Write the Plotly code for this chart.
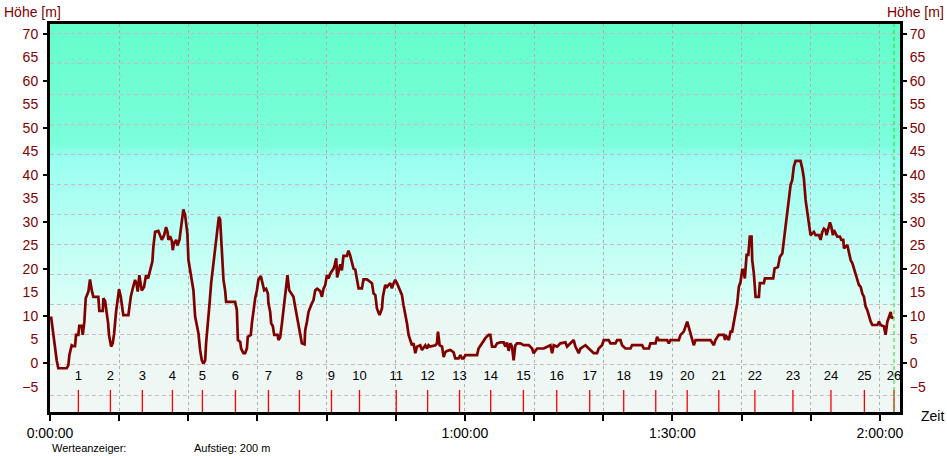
import base64
import plotly.graph_objects as go

# ---------------- data ----------------
zeit_s = [9, 29, 43, 58, 72, 145, 159, 168, 188, 202, 217, 226, 246, 254, 275, 284, 298, 310, 333, 347,
          362, 376, 419, 428, 458, 463, 478, 492, 504, 512, 530, 544, 556, 573, 586, 599, 614, 628, 636, 680,
          688, 701, 718, 738, 751, 761, 775, 786, 796, 816, 833, 851, 868, 888, 897, 912, 940, 955, 970, 990,
          1007, 1020, 1027, 1042, 1057, 1065, 1076, 1094, 1105, 1123, 1135, 1149, 1157, 1172, 1181, 1192, 1201, 1222,
          1244, 1259, 1274, 1288, 1302, 1317, 1331, 1346, 1354, 1369, 1383, 1398, 1413, 1426, 1441, 1453, 1465, 1476,
          1491, 1505, 1519, 1528, 1606, 1621, 1630, 1650, 1658, 1678, 1693, 1708, 1716, 1742, 1751, 1765, 1780, 1795,
          1808, 1829, 1847, 1858, 1875, 1890, 1895, 1910, 1919, 1933, 1945, 1974, 1982, 1997, 2012, 2034, 2046, 2060,
          2075, 2092, 2112, 2127, 2142, 2156, 2171, 2185, 2208, 2214, 2229, 2243, 2272, 2286, 2301, 2318, 2344, 2359,
          2373, 2388, 2402, 2416, 2431, 2460, 2470, 2483, 2491, 2503, 2518, 2532, 2546, 2576, 2589, 2604, 2619, 2633,
          2648, 2663, 2677, 2706, 2720, 2750, 2778, 2793, 2807, 2822, 2836, 2859, 2880, 2888, 2908, 2923, 2952, 2966,
          2981, 2995, 3010, 3024, 3039, 3053, 3067, 3082, 3097, 3111, 3126, 3140, 3154, 3169, 3184, 3212, 3227, 3256,
          3271, 3284, 3299, 3343, 3357, 3366, 3380, 3401, 3415, 3429, 3444, 3473, 3501, 3516, 3545, 3560, 3574, 3588,
          3603, 3705, 3718, 3748, 3777, 3805, 3820, 3835, 3863, 3878, 3907, 3936, 3950, 3965, 3979, 3994, 4008, 4022,
          4037, 4052, 4081, 4109, 4153, 4167, 4182, 4196, 4226, 4254, 4283, 4341, 4356, 4370, 4399, 4428, 4471, 4486,
          4514, 4543, 4558, 4587, 4601, 4645, 4674, 4717, 4746, 4760, 4789, 4804, 4847, 4862, 4905, 4920, 4949, 4963,
          4992, 5036, 5050, 5137, 5151, 5195, 5209, 5253, 5267, 5281, 5354, 5368, 5383, 5455, 5470, 5498, 5528, 5542,
          5556, 5571, 5585, 5600, 5730, 5759, 5773, 5802, 5846, 5856, 5860, 5889, 5904, 5918, 5932, 5947, 5962, 5976,
          5991, 6005, 6016, 6028, 6043, 6058, 6071, 6086, 6092, 6106, 6121, 6150, 6158, 6193, 6202, 6274, 6286, 6315,
          6332, 6353, 6367, 6381, 6396, 6410, 6425, 6439, 6453, 6468, 6511, 6526, 6540, 6555, 6570, 6584, 6598, 6627,
          6642, 6671, 6685, 6700, 6714, 6728, 6737, 6752, 6766, 6778, 6792, 6801, 6815, 6830, 6853, 6865, 6882, 6888,
          6917, 6931, 6946, 6961, 6975, 6989, 7004, 7018, 7033, 7047, 7061, 7076, 7090, 7105, 7120, 7134, 7178, 7192,
          7206, 7235, 7249, 7264, 7278, 7293, 7301, 7316]

hoehe_m = [9.9, 6.3, 2.8, 0.6, -1.1, -1.1, -0.5, 1.7, 3.8, 3.6, 3.6, 6.0, 6.0, 7.9, 7.9, 6.0, 8.8, 13.8, 15.2, 17.8,
           15.5, 14.1, 14.1, 11.1, 11.1, 13.8, 13.2, 11.0, 8.5, 6.0, 3.5, 4.2, 6.2, 10.9, 13.5, 15.7, 14.1, 11.0, 10.2, 10.2,
           12.3, 14.1, 15.9, 17.7, 16.8, 15.2, 18.7, 17.0, 15.4, 16.2, 18.7, 18.0, 19.8, 21.6, 24.8, 27.9, 28.1, 26.9, 26.2, 27.2,
           28.9, 27.8, 26.2, 27.0, 26.0, 24.0, 25.5, 26.2, 25.0, 26.2, 28.6, 31.5, 32.7, 31.5, 29.4, 27.5, 21.9, 18.7,
           15.5, 9.9, 8.0, 6.3, 2.8, 0.6, -0.1, 0.6, 4.2, 7.7, 12.3, 17.0, 20.1, 23.7, 25.5, 29.0, 31.1, 30.5,
           23.0, 17.7, 15.5, 13.0, 13.0, 11.3, 4.9, 4.5, 3.1, 2.1, 2.1, 3.1, 5.6, 6.0, 8.4, 11.3, 13.8, 15.5,
           17.7, 18.5, 16.2, 15.5, 15.8, 14.8, 12.7, 10.9, 8.4, 7.9, 6.0, 6.0, 4.9, 5.5, 8.4, 12.7, 16.2, 18.7,
           15.5, 14.8, 14.1, 12.0, 9.9, 8.6, 6.3, 4.2, 4.0, 7.0, 8.8, 10.9, 12.7, 13.4, 15.5, 15.8, 15.3, 14.1,
           15.8, 16.6, 18.7, 18.0, 19.0, 20.1, 20.9, 22.3, 18.2, 19.7, 21.0, 19.7, 22.8, 22.8, 23.9, 22.9, 21.2, 20.1,
           19.9, 18.0, 15.9, 15.9, 17.8, 17.8, 17.3, 17.0, 14.8, 14.5, 11.6, 10.2, 11.6, 14.1, 16.6, 16.2, 17.0, 15.9,
           17.0, 17.7, 17.0, 16.2, 15.5, 14.5, 12.3, 10.6, 8.4, 6.0, 4.9, 3.8, 4.2, 2.1, 3.5, 3.8, 2.8, 3.8,
           3.1, 3.8, 3.5, 3.8, 4.2, 6.7, 3.8, 3.5, 1.3, 2.3, 2.6, 2.8, 2.3, 1.0, 1.0, 1.7, 1.0, 1.0,
           1.7, 1.7, 3.1, 4.2, 5.3, 6.0, 6.0, 3.5, 3.5, 4.2, 4.4, 4.4, 3.5, 4.4, 2.6, 4.2, 3.5, 0.6,
           3.8, 4.2, 4.2, 3.8, 3.8, 3.5, 3.1, 2.1, 3.1, 3.1, 3.1, 3.8, 2.1, 3.8, 3.5, 4.2, 4.4, 3.5,
           4.2, 4.9, 3.5, 2.1, 3.1, 3.8, 3.1, 2.1, 2.1, 3.1, 3.8, 4.9, 4.9, 4.2, 4.2, 4.9, 4.9, 3.8,
           3.1, 3.1, 3.8, 3.8, 3.1, 3.1, 4.2, 4.2, 5.6, 4.9, 4.9, 4.2, 4.9, 4.9, 6.0, 6.7, 8.8, 7.5,
           5.9, 4.9, 3.8, 4.9, 4.9, 3.8, 4.9, 6.0, 6.0, 4.9, 6.0, 4.9, 6.7, 6.7, 8.8, 10.6, 12.7, 16.2,
           17.3, 19.8, 19.8, 18.0, 23.0, 23.0, 26.9, 26.9, 21.9, 19.1, 14.1, 14.1, 17.0, 17.0, 18.0, 18.0, 20.1, 20.4,
           22.6, 23.3, 26.2, 28.3, 31.5, 34.3, 37.9, 38.9, 41.8, 43.0, 43.0, 41.4, 39.3, 34.7, 32.2, 29.4, 27.2, 27.9,
           27.2, 27.2, 26.2, 27.9, 28.6, 28.3, 27.2, 28.6, 29.9, 29.0, 27.2, 28.3, 27.5, 26.9, 26.9, 26.2, 26.2, 24.4,
           25.1, 23.3, 21.9, 21.2, 20.1, 19.1, 17.7, 16.6, 16.2, 14.8, 14.1, 12.0, 11.3, 9.9, 8.8, 8.1, 8.1, 8.8,
           8.1, 7.8, 6.0, 8.8, 9.9, 10.9, 9.5, 9.9]

km_zeit_s = [246, 524, 801, 1062, 1322, 1609, 1895, 2164, 2442, 2685, 3004, 3276, 3553,
             3823, 4107, 4396, 4682, 4977, 5255, 5528, 5802, 6115, 6445, 6775, 7065, 7322]
km_labels = [str(i) for i in range(1, 27)]

x_tickvals = [0, 600, 1200, 1800, 2400, 3000, 3600, 4200, 4800, 5400, 6000, 6600, 7200]
x_ticktext = ["0:00:00", "", "", "", "", "", "1:00:00", "", "", "1:30:00", "", "", "2:00:00"]
y_label_vals = [-5, 0, 5, 10, 15, 20, 25, 30, 35, 40, 45, 50, 55, 60, 65, 70]
y_tick_vals = [0, 10, 20, 30, 40, 50, 60, 70]

# ---------------- style ----------------
X_MAX = 7374
Y_MIN, Y_MAX = -10.4, 72.1
DARKRED = "#800000"
FONT = "Liberation Sans, Arial, sans-serif"
ML, MR, MT, MB = 50, 47, 24, 44
W, H = 947, 456

svg = (
    '<svg xmlns="http://www.w3.org/2000/svg" width="100" height="100" preserveAspectRatio="none">'
    '<defs><linearGradient id="g" x1="0" y1="0" x2="0" y2="1">'
    '<stop offset="0" stop-color="rgb(100,253,202)"/>'
    '<stop offset="0.31" stop-color="rgb(124,254,220)"/>'
    '<stop offset="0.345" stop-color="rgb(152,255,240)"/>'
    '<stop offset="0.52" stop-color="rgb(184,255,243)"/>'
    '<stop offset="0.71" stop-color="rgb(216,255,247)"/>'
    '<stop offset="0.74" stop-color="rgb(234,247,242)"/>'
    '<stop offset="1" stop-color="rgb(240,247,244)"/>'
    '</linearGradient></defs><rect width="100" height="100" fill="url(#g)"/></svg>'
)
svg_uri = "data:image/svg+xml;base64," + base64.b64encode(svg.encode()).decode()

fig = go.Figure()

# elevation profile
fig.add_trace(go.Scatter(x=zeit_s, y=hoehe_m, mode="lines",
                         line=dict(color=DARKRED, width=2.7), hoverinfo="skip", showlegend=False))

# km markers
mx, my = [], []
for t in km_zeit_s:
    mx += [t, t, None]
    my += [-5.7, Y_MIN, None]
fig.add_trace(go.Scatter(x=mx, y=my, mode="lines", line=dict(color="#FF0000", width=1.3),
                         hoverinfo="skip", showlegend=False))
fig.add_trace(go.Scatter(x=km_zeit_s, y=[-3.0] * len(km_zeit_s), mode="text", text=km_labels,
                         textfont=dict(family=FONT, size=13, color="black"),
                         hoverinfo="skip", showlegend=False))

# dummy traces for helper axes
for ax in ["y2", "y3", "y4", "y5"]:
    fig.add_trace(go.Scatter(x=[None], y=[None], yaxis=ax, showlegend=False, hoverinfo="skip"))

# end-of-track line
fig.add_shape(type="line", x0=km_zeit_s[-1], x1=km_zeit_s[-1], y0=0, y1=1, xref="x", yref="paper",
              line=dict(color="#22DD22", width=1, dash="4px,3px"))

common_y = dict(range=[Y_MIN, Y_MAX], fixedrange=True, zeroline=False, automargin=False)

fig.update_layout(
    width=W, height=H,
    margin=dict(l=ML, r=MR, t=MT, b=MB, autoexpand=False),
    paper_bgcolor="white", plot_bgcolor="white",
    font=dict(family=FONT, size=14, color="black"),
    images=[dict(source=svg_uri, xref="paper", yref="paper", x=0, y=1, sizex=1, sizey=1,
                 xanchor="left", yanchor="top", sizing="stretch", layer="below")],
    xaxis=dict(range=[0, X_MAX], tickvals=x_tickvals, ticktext=x_ticktext, automargin=False,
               fixedrange=True, ticks="outside", ticklen=6, tickwidth=2, tickcolor="black",
               tickfont=dict(size=14, color="black"),
               showgrid=True, gridcolor="rgb(175,175,175)", gridwidth=1, griddash="3px,3px",
               showline=True, linecolor="black", linewidth=3, mirror=True, zeroline=False),
    yaxis=dict(**common_y, side="left", tickvals=y_label_vals, ticks="outside", ticklen=6,
               tickcolor="rgba(0,0,0,0)", tickfont=dict(size=14, color=DARKRED),
               showgrid=False, showline=True, linecolor="black", linewidth=3, mirror=True),
    yaxis2=dict(**common_y, overlaying="y", side="left", anchor="x", tickvals=y_tick_vals,
                ticks="outside", ticklen=6, tickwidth=2, tickcolor="black",
                showticklabels=False, showgrid=False, showline=False),
    yaxis3=dict(**common_y, overlaying="y", side="right", anchor="x", tickvals=y_label_vals,
                ticks="outside", ticklen=6, tickcolor="rgba(0,0,0,0)",
                tickfont=dict(size=14, color=DARKRED), showgrid=False, showline=False),
    yaxis4=dict(**common_y, overlaying="y", side="right", anchor="x", tickvals=y_tick_vals,
                ticks="outside", ticklen=6, tickwidth=2, tickcolor="black",
                showticklabels=False, showgrid=False, showline=False),
    yaxis5=dict(**common_y, overlaying="y", side="left", anchor="x", tick0=70, dtick=6.4,
                ticks="", showticklabels=False, showline=False,
                showgrid=True, gridcolor="rgb(205,185,195)", gridwidth=1, griddash="4px,3px"),
)

pw, ph = W - ML - MR, H - MT - MB


def px_to_paper(px, py):
    return (px - ML) / pw, 1 - (py - MT) / ph


ann = []
for txt, px, py, xa, size, col in [
    ("Höhe [m]", 2, 12, "left", 14, DARKRED),
    ("Höhe [m]", 946, 12, "right", 14, DARKRED),
    ("Zeit", 919, 416, "left", 14, "black"),
    ("Werteanzeiger:", 50, 448, "left", 11, "black"),
    ("Aufstieg: 200 m", 192, 448, "left", 11, "black"),
]:
    ax_, ay_ = px_to_paper(px, py)
    ann.append(dict(text=txt, x=ax_, y=ay_, xref="paper", yref="paper", xanchor=xa, yanchor="middle",
                    showarrow=False, font=dict(family=FONT, size=size, color=col)))
fig.update_layout(annotations=ann)

fig.write_html("out.html", config={"displayModeBar": False, "staticPlot": True},
               post_script="document.body.style.margin='0';document.body.style.padding='0';")
